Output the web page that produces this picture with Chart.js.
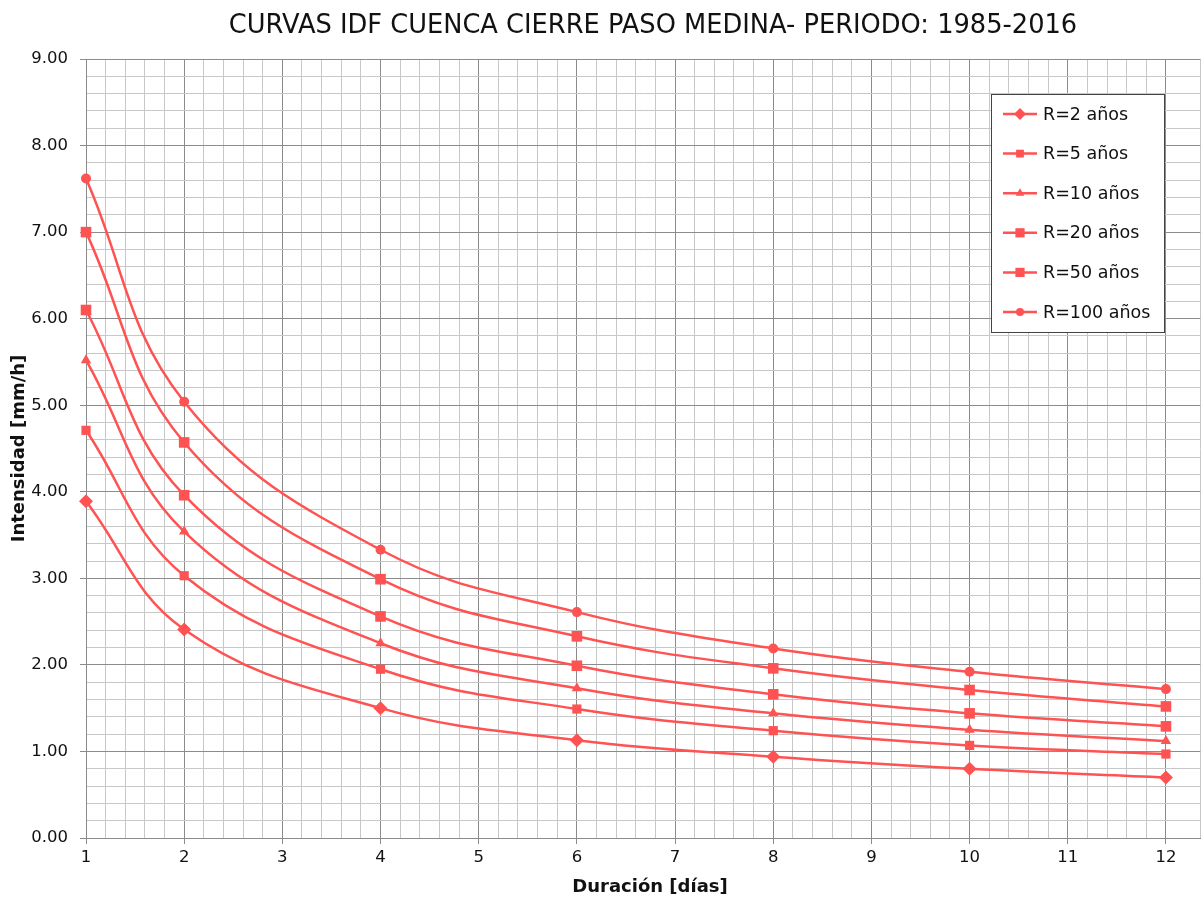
<!DOCTYPE html>
<html>
<head>
<meta charset="utf-8">
<script src="https://cdn.jsdelivr.net/npm/chart.js@4.4.0/dist/chart.umd.min.js"></script>
<style>
  html, body { margin: 0; padding: 0; background: #fff; overflow: hidden; }
  #wrap { width: 1203px; height: 897px; }
  canvas { display: block; }
</style>
</head>
<body>
<div id="wrap"><canvas id="idfChart"></canvas></div>
<script>
// Duration (days) and intensity (mm/h) per return period
const duracion = [1, 2, 4, 6, 8, 10, 12];
const r2 = [3.89, 2.41, 1.50, 1.13, 0.94, 0.80, 0.70];
const r5 = [4.71, 3.03, 1.95, 1.49, 1.24, 1.07, 0.97];
const r10 = [5.52, 3.54, 2.25, 1.73, 1.44, 1.25, 1.12];
const r20 = [6.10, 3.96, 2.56, 1.99, 1.66, 1.44, 1.29];
const r50 = [7.00, 4.57, 2.99, 2.33, 1.96, 1.71, 1.52];
const r100 = [7.62, 5.04, 3.33, 2.61, 2.19, 1.92, 1.72];

const seriesLabels = ['R=2 años', 'R=5 años', 'R=10 años', 'R=20 años', 'R=50 años', 'R=100 años'];
const seriesValues = [r2, r5, r10, r20, r50, r100];
const markers = ['rectRot', 'rect', 'triangle', 'rect', 'rect', 'circle'];
const markerSize = [7, 6.5, 6, 7.5, 7.5, 5];

const chartTitle = 'CURVAS IDF CUENCA CIERRE PASO MEDINA- PERIODO: 1985-2016';
const xTitle = 'Duración [días]';
const lineColor = '#ff5252';
const fontFamily = '"DejaVu Sans", Verdana, sans-serif';

const isMajor = v => Math.abs(v - Math.round(v)) < 1e-6;

const datasets = seriesValues.map((vals, i) => ({
  label: seriesLabels[i],
  data: duracion.map((d, j) => ({ x: d, y: vals[j] })),
  borderColor: lineColor,
  backgroundColor: lineColor,
  borderWidth: 2.5,
  pointStyle: markers[i],
  pointRadius: markerSize[i],
  pointBorderWidth: 0,
  pointBackgroundColor: lineColor,
  tension: 0.4,
  clip: false
}));

// Chart title and x-axis title, placed like the original
const titles = {
  id: 'titles',
  afterDraw(chart) {
    const ctx = chart.ctx;
    ctx.save();
    ctx.fillStyle = '#111';
    ctx.textAlign = 'center';
    ctx.textBaseline = 'middle';
    ctx.font = '25.7px ' + fontFamily;
    ctx.fillText(chartTitle, 653, 26);
    ctx.font = 'bold 18px ' + fontFamily;
    ctx.fillText(xTitle, 650, 887);
    ctx.restore();
  }
};

// Legend box drawn inside the plot area, top right
const boxLegend = {
  id: 'boxLegend',
  afterDraw(chart) {
    const ctx = chart.ctx;
    const area = chart.chartArea;
    const bx = 991, by = area.top + 35, bw = 173, bh = 238;
    ctx.save();
    ctx.fillStyle = '#fff';
    ctx.fillRect(bx, by, bw, bh);
    ctx.strokeStyle = '#444';
    ctx.lineWidth = 1;
    ctx.strokeRect(bx + 0.5, by + 0.5, bw, bh);
    ctx.font = '17.5px ' + fontFamily;
    ctx.textBaseline = 'middle';
    ctx.textAlign = 'left';
    seriesLabels.forEach((lab, i) => {
      const y = by + 20 + i * 39.6;
      ctx.strokeStyle = lineColor;
      ctx.lineWidth = 2.5;
      ctx.beginPath();
      ctx.moveTo(bx + 12, y);
      ctx.lineTo(bx + 46, y);
      ctx.stroke();
      ctx.fillStyle = lineColor;
      Chart.helpers.drawPoint(ctx, {
        pointStyle: markers[i],
        radius: markerSize[i] - 1,
        rotation: 0,
        borderWidth: 0
      }, bx + 29, y);
      ctx.fillStyle = '#111';
      ctx.fillText(lab, bx + 52, y + 1);
    });
    ctx.restore();
  }
};

new Chart(document.getElementById('idfChart').getContext('2d'), {
  type: 'line',
  data: { datasets },
  plugins: [titles, boxLegend],
  options: {
    responsive: true,
    maintainAspectRatio: false,
    animation: false,
    layout: { autoPadding: false, padding: { top: 59, right: 2.7 } },
    plugins: {
      legend: { display: false },
      tooltip: { enabled: false },
      title: { display: false }
    },
    scales: {
      x: {
        type: 'linear',
        min: 1,
        max: 12.35,
        afterFit: s => { s.height = 59; s.paddingLeft = 0; s.paddingRight = 0; },
        ticks: {
          stepSize: 0.2,
          autoSkip: false,
          maxRotation: 0,
          padding: 4,
          color: '#111',
          font: { family: fontFamily, size: 16.5 },
          callback: v => isMajor(v) ? String(Math.round(v)) : ''
        },
        grid: {
          color: c => isMajor(c.tick.value) ? '#8c8c8c' : '#c8c8c8',
          tickColor: c => isMajor(c.tick.value) ? '#8c8c8c' : 'rgba(0,0,0,0)',
          tickLength: 6
        },
        border: { color: '#8c8c8c' }
      },
      y: {
        min: 0,
        max: 9,
        afterFit: s => { s.width = 86; },
        ticks: {
          stepSize: 0.2,
          autoSkip: false,
          padding: 12,
          color: '#111',
          font: { family: fontFamily, size: 16.5 },
          callback: v => isMajor(v) ? v.toFixed(2) : ''
        },
        grid: {
          color: c => isMajor(c.tick.value) ? '#8c8c8c' : '#c8c8c8',
          tickColor: c => isMajor(c.tick.value) ? '#8c8c8c' : 'rgba(0,0,0,0)',
          tickLength: 6
        },
        border: { color: '#8c8c8c' },
        title: {
          display: true,
          text: 'Intensidad [mm/h]',
          color: '#111',
          font: { family: fontFamily, size: 18, weight: 'bold' },
          padding: { top: 9, bottom: 0 }
        }
      }
    }
  }
});
</script>
</body>
</html>
